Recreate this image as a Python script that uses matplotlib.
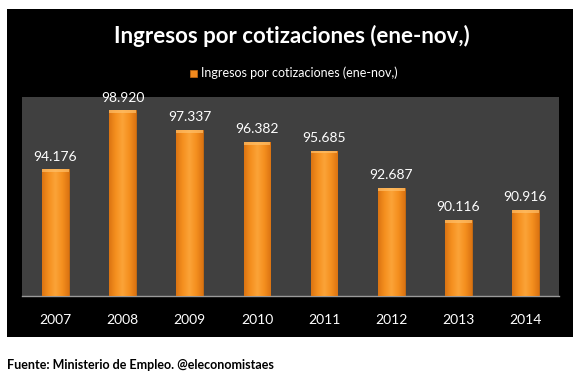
import numpy as np
import matplotlib.pyplot as plt
from matplotlib.colors import LinearSegmentedColormap
from matplotlib.patches import Rectangle

# Datos
anios = ["2007", "2008", "2009", "2010", "2011", "2012", "2013", "2014"]
ingresos = [94.176, 98.920, 97.337, 96.382, 95.685, 92.687, 90.116, 90.916]
etiquetas = ["94.176", "98.920", "97.337", "96.382", "95.685", "92.687", "90.116", "90.916"]

titulo = "Ingresos por cotizaciones (ene-nov,)"
fuente = "Fuente: Ministerio de Empleo. @eleconomistaes"

plt.rcParams['font.family'] = ['Lato', 'DejaVu Sans']

fig = plt.figure(figsize=(5.83, 3.77), dpi=100)
fig.patch.set_facecolor("white")

# Panel negro de fondo
fig.patches.append(Rectangle((7 / 583, 1 - 337 / 377), 566 / 583, 328 / 377,
                             transform=fig.transFigure, facecolor="black",
                             edgecolor="none", zorder=-1))

ax = fig.add_axes([22 / 583, 1 - 296 / 377, 537 / 583, 199 / 377])
ax.set_zorder(2)
ax.set_facecolor("#404040")

x = np.arange(len(anios))
ancho = 0.40
barras = ax.bar(x, ingresos, width=ancho, color="#F28A1E", edgecolor="#C86A10",
                linewidth=0.6, zorder=2)

# Degradado naranja dentro de cada barra
cmap = LinearSegmentedColormap.from_list(
    "naranja", ["#DC7412", "#F5901F", "#FBA338", "#F5901F", "#DC7412"])
grad = np.linspace(0, 1, 100).reshape(1, -1)
for b in barras:
    x0, w, h = b.get_x(), b.get_width(), b.get_height()
    im = ax.imshow(grad, cmap=cmap, aspect="auto", extent=[x0, x0 + w, 84, h],
                   zorder=3)
    im.set_clip_path(b)
    ax.add_patch(Rectangle((x0, h - 0.22), w, 0.22, facecolor="#FFC06A",
                           edgecolor="none", alpha=0.7, zorder=4))

for xi, v, t in zip(x, ingresos, etiquetas):
    ax.text(xi, v + 0.55, t, ha="center", va="bottom", color="white",
            fontsize=10, zorder=5, clip_on=False)

ax.set_xlim(-0.5, len(anios) - 0.5)
ax.set_ylim(84, 100)
ax.set_yticks([])
ax.set_xticks(x)
ax.set_xticklabels(anios, color="white", fontsize=10)
ax.tick_params(axis="x", length=0, pad=13)
for lado in ["top", "left", "right"]:
    ax.spines[lado].set_visible(False)
ax.spines["bottom"].set_color("#9a9a9a")
ax.spines["bottom"].set_linewidth(1)

fig.text(0.5, 1 - 36 / 377, titulo, ha="center", va="center", color="white",
         fontsize=16, fontweight="bold")

# Leyenda
fig.patches.append(Rectangle((190 / 583, 1 - 77 / 377), 7 / 583, 7 / 377,
                             transform=fig.transFigure, facecolor="#F28A1E",
                             edgecolor="#C86A10", linewidth=0.5, zorder=3))
fig.text(201 / 583, 1 - 73 / 377, titulo, ha="left", va="center", color="white",
         fontsize=9)

fig.text(7 / 583, 1 - 365 / 377, fuente, ha="left", va="center", color="black",
         fontsize=9, fontweight="bold")

plt.savefig("out.png", dpi=100)
